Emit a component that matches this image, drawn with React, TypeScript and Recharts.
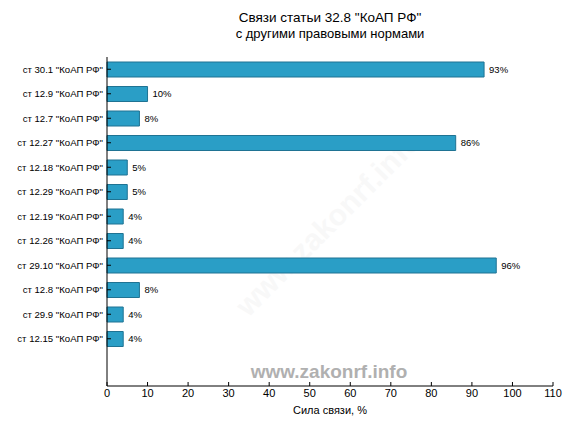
import React from "react";
import { BarChart, Bar, XAxis, YAxis, LabelList } from "recharts";

const categories = [
  'ст 30.1 "КоАП РФ"',
  'ст 12.9 "КоАП РФ"',
  'ст 12.7 "КоАП РФ"',
  'ст 12.27 "КоАП РФ"',
  'ст 12.18 "КоАП РФ"',
  'ст 12.29 "КоАП РФ"',
  'ст 12.19 "КоАП РФ"',
  'ст 12.26 "КоАП РФ"',
  'ст 29.10 "КоАП РФ"',
  'ст 12.8 "КоАП РФ"',
  'ст 29.9 "КоАП РФ"',
  'ст 12.15 "КоАП РФ"',
];
const strength = [93, 10, 8, 86, 5, 5, 4, 4, 96, 8, 4, 4];
const xTicks = [0, 10, 20, 30, 40, 50, 60, 70, 80, 90, 100, 110];

const data = categories.map((name, i) => ({ name, value: strength[i] }));

const FONT = "'Liberation Sans', Arial, sans-serif";
const black = { stroke: "#000" };

// plain one-line tick label, recharts would wrap it otherwise
const CategoryTick = (props: any) => {
  const { x, y, payload } = props;
  return (
    <text
      x={x}
      y={y}
      dy="0.35em"
      textAnchor="end"
      fontFamily={FONT}
      fontSize={9.6}
      fill="#000"
    >
      {payload.value}
    </text>
  );
};

const App: React.FC = () => {
  return (
    <div style={{ position: "absolute", left: 0, top: 0, fontFamily: FONT }}>
      <BarChart
        width={576}
        height={432}
        data={data}
        layout="vertical"
        margin={{ top: 57, right: 23, bottom: 16, left: 7 }}
      >
        <text
          x={330}
          y={225}
          textAnchor="middle"
          dominantBaseline="middle"
          transform="rotate(-45 330 225)"
          fontFamily={FONT}
          fontWeight="bold"
          fontSize={30}
          fill="#f8f8f8"
        >
          www.zakonrf.info
        </text>
        <text x={330} y={22} textAnchor="middle" fontFamily={FONT} fontSize={13.5} fill="#000">
          Связи статьи 32.8 "КоАП РФ"
        </text>
        <text x={330} y={38} textAnchor="middle" fontFamily={FONT} fontSize={13} fill="#000">
          с другими правовыми нормами
        </text>
        <text x={330} y={414} textAnchor="middle" fontFamily={FONT} fontSize={11} fill="#000">
          Сила связи, %
        </text>
        <text
          x={329}
          y={378}
          textAnchor="middle"
          fontFamily={FONT}
          fontWeight="bold"
          fontSize={19}
          fill="#b0b0b0"
        >
          www.zakonrf.info
        </text>
        <XAxis
          type="number"
          domain={[0, 110]}
          ticks={xTicks}
          height={30}
          tickSize={-4}
          tickMargin={7}
          axisLine={black}
          tickLine={black}
          tick={{ fill: "#000", fontSize: 11, fontFamily: FONT }}
        />
        <XAxis
          xAxisId="top"
          orientation="top"
          type="number"
          domain={[0, 110]}
          ticks={xTicks}
          height={0}
          tickSize={-4}
          axisLine={black}
          tickLine={black}
          tick={false}
        />
        <YAxis
          type="category"
          dataKey="name"
          width={100}
          padding={{ top: 0, bottom: 35 }}
          tickSize={-4}
          tickMargin={8}
          axisLine={black}
          tickLine={black}
          interval={0}
          tick={<CategoryTick />}
        />
        <YAxis
          yAxisId="right"
          orientation="right"
          type="category"
          dataKey="name"
          width={0}
          padding={{ top: 0, bottom: 35 }}
          tickSize={-4}
          axisLine={black}
          tickLine={black}
          interval={0}
          tick={false}
        />
        <Bar
          dataKey="value"
          barSize={15}
          fill="#2a9ec6"
          stroke="#1f7393"
          strokeWidth={1}
          isAnimationActive={false}
        >
          <LabelList
            dataKey="value"
            position="right"
            offset={5}
            formatter={(v: any) => `${v}%`}
            fill="#000"
            fontSize={9.5}
            fontFamily={FONT}
          />
        </Bar>
      </BarChart>
    </div>
  );
};

export default App;
